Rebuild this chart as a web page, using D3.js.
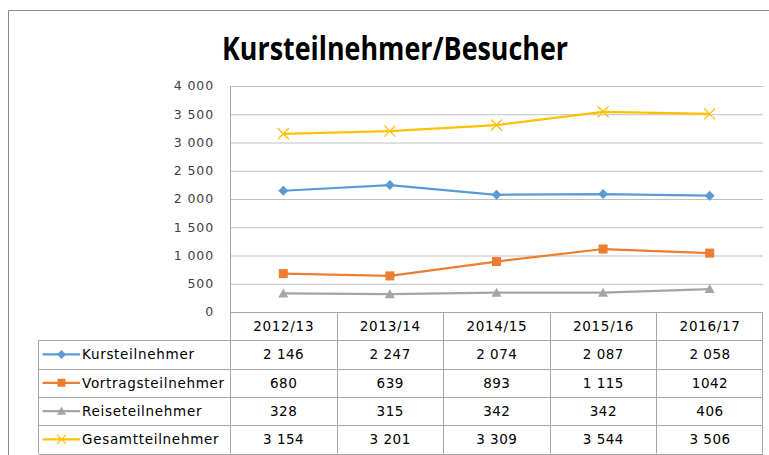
<!DOCTYPE html>
<html>
<head>
<meta charset="utf-8">
<script src="https://cdn.jsdelivr.net/npm/d3@7"></script>
<style>
  body { margin: 0; background: #fff; }
  svg { display: block; }
</style>
</head>
<body>
<div id="chart"></div>
<script>
// data
let years = ['2012/13', '2013/14', '2014/15', '2015/16', '2016/17']
let seriesNames = ['Kursteilnehmer', 'Vortragsteilnehmer', 'Reiseteilnehmer', 'Gesamtteilnehmer']
let kurs = [2146, 2247, 2074, 2087, 2058]
let vortrag = [680, 639, 893, 1115, 1042]
let reise = [328, 315, 342, 342, 406]
let gesamt = [3154, 3201, 3309, 3544, 3506]
let tableLabels = [
  ['2 146', '2 247', '2 074', '2 087', '2 058'],
  ['680', '639', '893', '1 115', '1042'],
  ['328', '315', '342', '342', '406'],
  ['3 154', '3 201', '3 309', '3 544', '3 506']
]
let yTicks = [0, 500, 1000, 1500, 2000, 2500, 3000, 3500, 4000]
let colors = ['#5B9BD5', '#ED7D31', '#A5A5A5', '#FFC000']
let markers = ['diamond', 'square', 'triangle', 'x']

let series = seriesNames.map((name, i) => ({
  name: name,
  values: [kurs, vortrag, reise, gesamt][i],
  labels: tableLabels[i],
  color: colors[i],
  marker: markers[i]
}))

let W = 769
let H = 455
let plotLeft = 230
let plotRight = 763
let plotTop = 86
let plotBottom = 312
let rowH = 28.3
let tableLeft = 38.5
let font = 'DejaVu Sans, sans-serif'

let svg = d3.select('#chart').append('svg')
  .attr('width', W)
  .attr('height', H)

// outer chart frame
svg.append('path')
  .attr('d', `M8.5,${H} V10.5 H${W}`)
  .attr('fill', 'none')
  .attr('stroke', '#8c8c8c')
  .attr('stroke-width', 1)

// title
svg.append('text')
  .attr('x', 395)
  .attr('y', 60)
  .attr('text-anchor', 'middle')
  .attr('font-family', 'Open Sans, sans-serif')
  .attr('font-weight', 'bold')
  .attr('font-size', 32)
  .attr('textLength', 346)
  .attr('lengthAdjust', 'spacingAndGlyphs')
  .attr('fill', '#000')
  .text('Kursteilnehmer/Besucher')

let xBand = d3.scaleBand().domain(years).range([plotLeft, plotRight])
let xPos = d => xBand(d) + xBand.bandwidth() / 2
let y = d3.scaleLinear().domain([0, 4000]).range([plotBottom, plotTop])

// gridlines
let yAxis = d3.axisLeft(y).tickValues(yTicks).tickSize(-(plotRight - plotLeft)).tickFormat('')
svg.append('g')
  .attr('class', 'grid')
  .attr('transform', `translate(${plotLeft},0)`)
  .call(yAxis)
  .call(g => g.select('.domain').remove())
  .call(g => g.selectAll('.tick line').attr('stroke', '#bfbfbf').attr('stroke-width', 1))

// y tick labels
let fmt = d => d3.format(',')(d).replace(/,/g, ' ')
svg.append('g')
  .selectAll('text')
  .data(yTicks)
  .enter()
  .append('text')
  .attr('x', 214)
  .attr('y', d => y(d))
  .attr('dy', '0.35em')
  .attr('text-anchor', 'end')
  .attr('font-family', font)
  .attr('font-size', 12.5)
  .attr('letter-spacing', 0.9)
  .attr('fill', '#404040')
  .text(fmt)

// table grid
let tableBottom = plotBottom + rowH * 5
let grid = svg.append('g').attr('stroke', '#a6a6a6').attr('stroke-width', 1).attr('fill', 'none')

// horizontal lines of the data rows
d3.range(1, 6).forEach(i => {
  let yy = Math.round(plotBottom + rowH * i) + 0.5
  grid.append('line').attr('x1', tableLeft).attr('x2', plotRight).attr('y1', yy).attr('y2', yy)
})
// axis line / table top
grid.append('line').attr('x1', plotLeft).attr('x2', plotRight)
  .attr('y1', plotBottom + 0.5).attr('y2', plotBottom + 0.5)
// column boundaries
xBand.domain().forEach(d => {
  let xx = Math.round(xBand(d)) + 0.5
  grid.append('line').attr('x1', xx).attr('x2', xx)
    .attr('y1', xBand(d) === plotLeft ? plotTop : plotBottom).attr('y2', tableBottom)
})
grid.append('line').attr('x1', plotRight - 0.5).attr('x2', plotRight - 0.5)
  .attr('y1', plotBottom).attr('y2', tableBottom)
grid.append('line').attr('x1', tableLeft).attr('x2', tableLeft)
  .attr('y1', Math.round(plotBottom + rowH) + 0.5).attr('y2', tableBottom)

// header
svg.append('g')
  .selectAll('text')
  .data(years)
  .enter()
  .append('text')
  .attr('x', d => xPos(d) + 0.4)
  .attr('y', plotBottom + rowH / 2)
  .attr('dy', '0.38em')
  .attr('text-anchor', 'middle')
  .attr('font-family', font)
  .attr('font-size', 13.5)
  .attr('letter-spacing', 0.7)
  .attr('fill', '#000')
  .text(d => d)

// marker drawing
function drawMarker(g, type, color, cx, cy, s) {
  if (type === 'diamond') {
    g.append('path')
      .attr('d', `M${cx},${cy - s} L${cx + s},${cy} L${cx},${cy + s} L${cx - s},${cy} Z`)
      .attr('fill', color)
  } else if (type === 'square') {
    g.append('rect')
      .attr('x', cx - s).attr('y', cy - s).attr('width', 2 * s).attr('height', 2 * s)
      .attr('fill', color)
  } else if (type === 'triangle') {
    g.append('path')
      .attr('d', `M${cx},${cy - s} L${cx + s},${cy + s * 0.8} L${cx - s},${cy + s * 0.8} Z`)
      .attr('fill', color)
  } else {
    g.append('path')
      .attr('d', `M${cx - s},${cy - s} L${cx + s},${cy + s} M${cx - s},${cy + s} L${cx + s},${cy - s}`)
      .attr('stroke', color)
      .attr('stroke-width', 1.3)
      .attr('fill', 'none')
  }
}

let line = d3.line()
  .x((d, i) => xPos(years[i]))
  .y(d => y(d))

series.forEach((s, k) => {
  let g = svg.append('g').attr('class', 'series')
  g.append('path')
    .datum(s.values)
    .attr('d', line)
    .attr('fill', 'none')
    .attr('stroke', s.color)
    .attr('stroke-width', 2.25)
    .attr('stroke-linejoin', 'round')
  s.values.forEach((v, i) => {
    let size = s.marker === 'x' ? 5.5 : (s.marker === 'square' ? 4.5 : 5)
    drawMarker(g, s.marker, s.color, xPos(years[i]), y(v), size)
  })

  // table row
  let cy = plotBottom + rowH * (k + 1) + rowH / 2
  g.append('line')
    .attr('x1', 42.5).attr('x2', 80)
    .attr('y1', cy).attr('y2', cy)
    .attr('stroke', s.color)
    .attr('stroke-width', 2.25)
  drawMarker(g, s.marker, s.color, 61.5, cy, s.marker === 'square' ? 4 : 4.5)

  g.append('text')
    .attr('x', 82)
    .attr('y', cy)
    .attr('dy', '0.36em')
    .attr('font-family', font)
    .attr('font-size', 13.5)
    .attr('letter-spacing', 0.7)
    .attr('fill', '#000')
    .text(s.name)

  g.selectAll('.val')
    .data(s.labels)
    .enter()
    .append('text')
    .attr('class', 'val')
    .attr('x', (d, i) => xPos(years[i]) + 0.3)
    .attr('y', cy)
    .attr('dy', '0.36em')
    .attr('text-anchor', 'middle')
    .attr('font-family', font)
    .attr('font-size', 13.5)
    .attr('letter-spacing', 0.5)
    .attr('fill', '#000')
    .text(d => d)
})
</script>
</body>
</html>
